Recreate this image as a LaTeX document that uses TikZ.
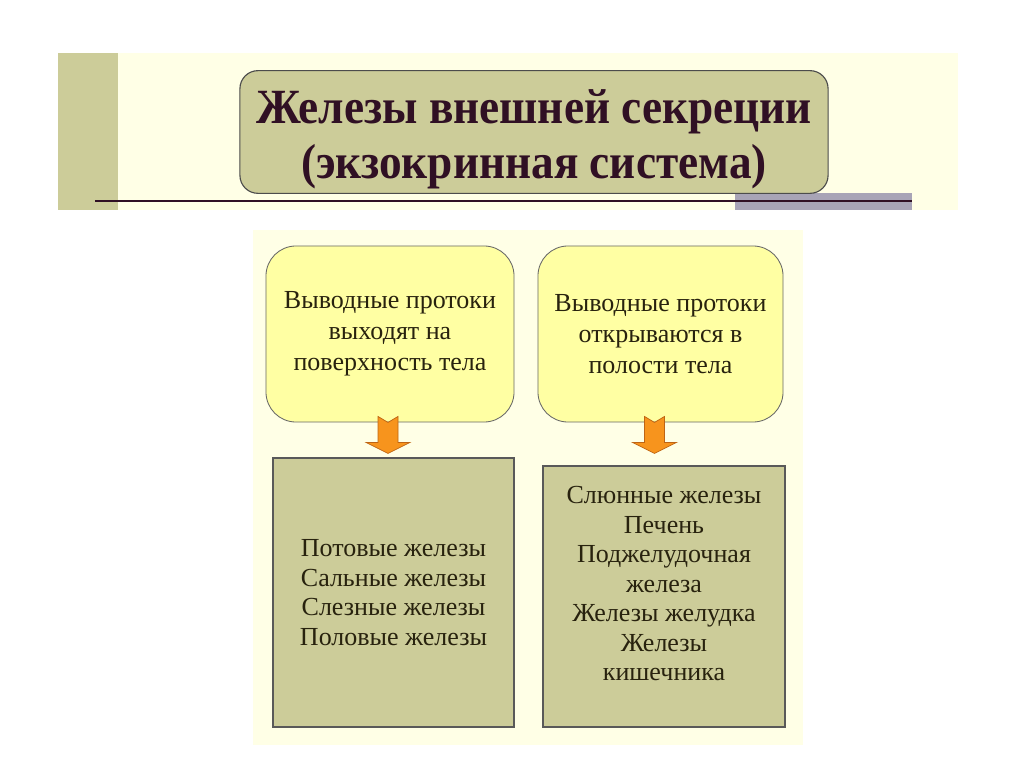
\documentclass[tikz,border=0pt]{standalone}
\usepackage{fontspec}
\setmainfont{Liberation Serif}
\newfontfamily\titlefont[FakeStretch=0.92]{Liberation Serif}
\usetikzlibrary{calc}

\definecolor{khaki}{RGB}{204,204,153}
\definecolor{paleyellow}{RGB}{255,255,163}
\definecolor{creambg}{RGB}{255,255,230}
\definecolor{lavgrey}{RGB}{168,164,182}
\definecolor{darkink}{RGB}{40,34,14}
\definecolor{titleink}{RGB}{48,16,36}
\definecolor{arrorange}{RGB}{247,148,29}
\definecolor{arredge}{RGB}{190,100,20}

\begin{document}
\begin{tikzpicture}[x=0.025cm, y=-0.025cm,
  titlebox/.style={draw=black!70, fill=khaki, rounded corners=0.45cm, line width=0.8pt, align=center, text=titleink, font=\titlefont\fontsize{35}{39}\selectfont\bfseries, minimum width=14.7cm, minimum height=3cm},
  duct/.style={draw=black!60, fill=paleyellow, rounded corners=0.75cm, line width=0.6pt, align=center, text=darkink, font=\fontsize{18.5}{22}\selectfont},
  glands/.style={draw=black!65, fill=khaki, line width=0.8pt, align=center, text=darkink, font=\fontsize{18.5}{21}\selectfont},
  blockarrow/.style={draw=arredge, fill=arrorange, line width=0.5pt, line join=miter}
]
\useasboundingbox (0,0) rectangle (1024,767);
\fill[white] (0,0) rectangle (1024,767);

% header band
\fill[creambg] (58,53) rectangle (958,210);
\fill[khaki] (58,53) rectangle (118,210);
\fill[lavgrey] (735,193) rectangle (912,210);
\draw[titleink, line width=1.4pt] (95,201) -- (912,201);

\node[titlebox] (title) at (534,132) {\rule{0pt}{1.2cm}Железы внешней секреции\\(экзокринная система)};

% lower panel
\fill[creambg] (253,230) rectangle (803,745);

\node[duct, minimum width=6.2cm, minimum height=4.4cm] (outer) at (390,334)
  {Выводные протоки\\выходят на\\поверхность тела};
\node[duct, minimum width=6.125cm, minimum height=4.4cm] (inner) at (660.5,334)
  {Выводные протоки\\открываются в\\полости тела};

\node[glands, minimum width=6.025cm, minimum height=6.725cm] (skin) at (393.5,592.5)
  {Потовые железы\\Сальные железы\\Слезные железы\\Половые железы};
\node[glands, minimum width=6.05cm, minimum height=6.525cm] (cavity) at (664,596.5)
  {Слюнные железы\\Печень\\Поджелудочная\\железа\\Железы желудка\\Железы\\кишечника\rule[-0.65cm]{0pt}{0pt}};

% block arrows
\draw[blockarrow] ($(outer.south)+(-12,-6)$) -- ++(10,6) -- ++(10,-6) -- ++(0,26) -- ++(12,0)
  -- ++(-22,11) -- ++(-22,-11) -- ++(12,0) -- cycle;
\draw[blockarrow] ($(inner.south)+(-16,-6)$) -- ++(10,6) -- ++(10,-6) -- ++(0,26) -- ++(12,0)
  -- ++(-22,11) -- ++(-22,-11) -- ++(12,0) -- cycle;

\end{tikzpicture}
\end{document}
